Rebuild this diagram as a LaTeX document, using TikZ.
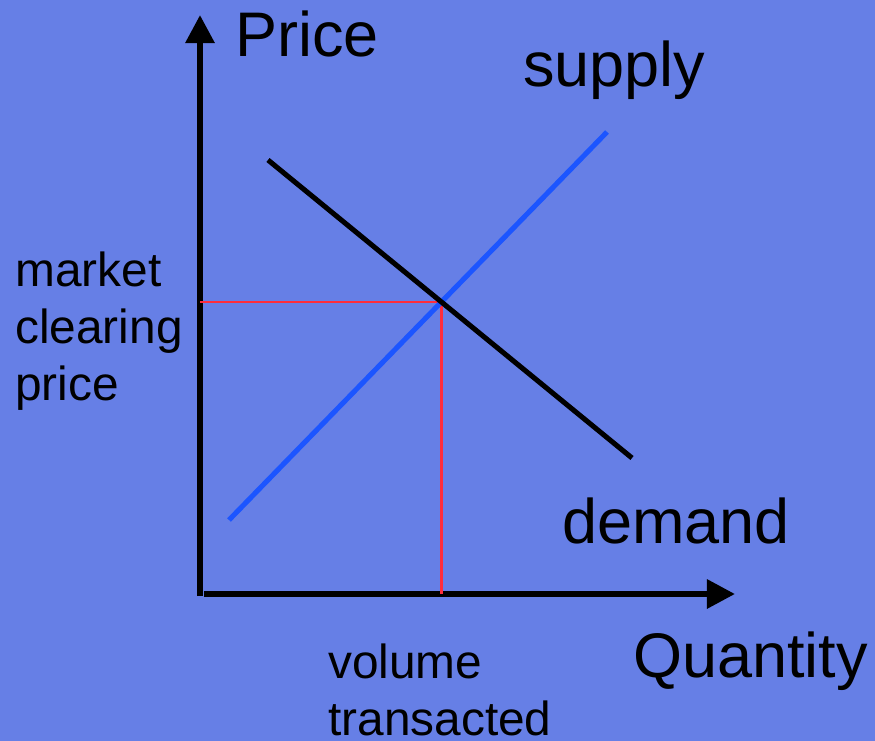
\documentclass[tikz,border=0pt]{standalone}
\usepackage{fontspec}
\setmainfont{Liberation Sans}
\usetikzlibrary{arrows.meta}

\begin{document}
\begin{tikzpicture}[x=0.025cm, y=-0.025cm,
  bigLbl/.style={font=\fontsize{44.8}{54}\selectfont, inner sep=0pt},
  smallLbl/.style={font=\fontsize{34}{40.5}\selectfont, inner sep=0pt, align=left},
  axisLine/.style={line width=4.3pt, -{Triangle[length=20pt,width=20pt]}},
  curveLine/.style={line width=3.6pt}]

% Colours
\definecolor{colBack}{RGB}{102,127,230}
\definecolor{colSupply}{RGB}{28,85,255}
\definecolor{colClear}{RGB}{255,45,60}

% Background
\fill[colBack] (0,0) rectangle (875,741);
\useasboundingbox (0,0) rectangle (875,741);

% Axes
\coordinate (yBot) at (200,596);
\coordinate (yTop) at (200,15);
\coordinate (xBeg) at (204,594);
\coordinate (xEnd) at (735,594);
\draw[axisLine] (yBot) -- (yTop);
\draw[axisLine] (xBeg) -- (xEnd);

% Curves
\coordinate (supA) at (229,520);
\coordinate (supB) at (607,132);
\coordinate (demA) at (268,160);
\coordinate (demB) at (632,458);
\coordinate (eq) at (intersection of supA--supB and demA--demB);

% Equilibrium guides
\draw[colClear, line width=1.6pt] (eq -| yBot) -- (eq) -- (eq |- xBeg);

\draw[colSupply, curveLine] (supA) -- (supB);
\draw[black, curveLine] (demA) -- (demB);

% Labels
\node[bigLbl, anchor=base west] (price) at (235,57) {Price};
\node[bigLbl, anchor=base west] (supply) at (523,87) {supply};
\node[bigLbl, anchor=base west] (demand) at (562,543) {demand};
\node[bigLbl, anchor=base west] (quantity) at (633,677) {Quantity};
\node[smallLbl, anchor=north west] (mcp) at (15,252) {market\\clearing\\price};
\node[smallLbl, anchor=north west] (vol) at (328,644) {volume\\transacted};
\end{tikzpicture}
\end{document}
